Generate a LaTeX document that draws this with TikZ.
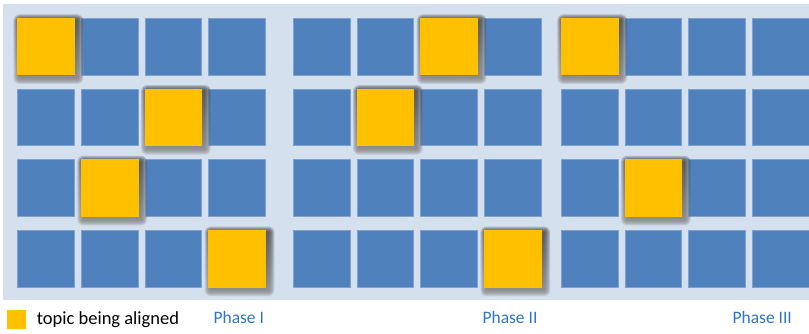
\documentclass[tikz,border=0pt]{standalone}
\usepackage{fontspec}
\setmainfont{Carlito}
\usetikzlibrary{positioning}
\definecolor{panel}{HTML}{D5E0EF}
\definecolor{cellblue}{HTML}{4F81BD}
\definecolor{celledge}{HTML}{7EA1CF}
\definecolor{topic}{HTML}{FFC000}
\definecolor{shade}{HTML}{1C2633}
\definecolor{phasetext}{HTML}{2E75C0}
\tikzset{
 cell/.style={anchor=north west,minimum size=56.7pt,inner sep=0pt,
  fill=cellblue,draw=celledge,line width=.7pt},
 aligned/.style={minimum size=57.6pt,inner sep=0pt,fill=topic},
 phase/.style={anchor=base west,text=phasetext,font=\fontsize{17.5}{21}\selectfont}
}
\begin{document}
\begin{tikzpicture}[x=1pt,y=-1pt,line cap=round,line join=round]
\useasboundingbox (0,0) rectangle (809,334);
\fill[panel] (3,4) rectangle (812,300);
% blue grid, three phases
\foreach \g/\gx in {1/17.3,2/293,3/561}{
\foreach \r in {1,...,4}{
\foreach \c in {1,...,4}{
 \node[cell] (c-\g-\r-\c) at ({\gx+63.7*(\c-1)},{18+70.7*(\r-1)}) {};
}}}
% topics being aligned, soft shadow first
\foreach \g/\r/\c in {1/1/1,1/2/3,1/3/2,1/4/4,2/1/3,2/2/2,2/4/4,3/1/1,3/3/2}{
 \foreach \e in {0,...,6}
  \fill[shade,opacity=.13,rounded corners=\e pt]
   ([shift={(-26.3-\e,-26.3-\e)}]c-\g-\r-\c.center) rectangle
   ([shift={(31.3+\e,31.3+\e)}]c-\g-\r-\c.center);
 \node[aligned] (t-\g-\r-\c) at (c-\g-\r-\c.center) {};
}
% legend and phase labels
\node[fill=topic,minimum size=19pt,inner sep=0pt] (key) at (16,319.5) {};
\node[right=11pt of key,inner sep=0pt,font=\fontsize{18.5}{22}\selectfont] (keytext) {topic being aligned};
\node[phase] (p1) at (210,323) {Phase I};
\node[phase] (p2) at (479,323) {Phase II};
\node[phase] (p3) at (729,323) {Phase III};
\end{tikzpicture}
\end{document}
